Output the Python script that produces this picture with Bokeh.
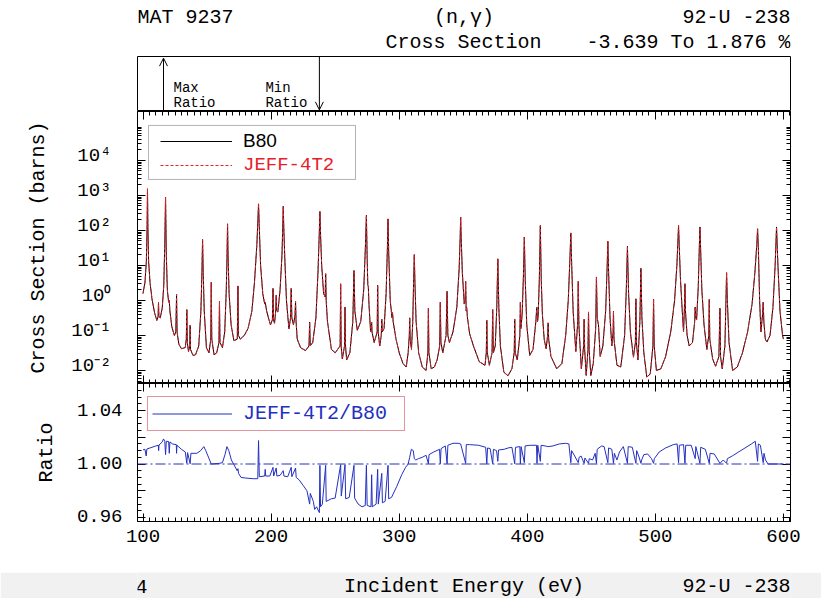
import numpy as np
from bokeh.core.properties import value
from bokeh.embed import file_html
from bokeh.layouts import column
from bokeh.models import (Arrow, BoxAnnotation, ColumnDataSource, FixedTicker, Label,
                          Legend, LegendItem, LinearAxis, LogAxis, OpenHead, Range1d,
                          SingleIntervalTicker, Span)
from bokeh.plotting import figure
from bokeh.resources import INLINE

MONO = "Liberation Mono"
SANS = "Liberation Sans"

# ---------------------------------------------------------------------------
# U-238 (n,gamma) cross section, 100-600 eV (barns), B80 evaluation.
# Each row follows one resonance group: skirt, peak, skirt, valley.
# ---------------------------------------------------------------------------
energy_ev = [
    100.0, 101.5, 102.6, 103.2, 103.5, 103.8, 104.4, 105.5, 107.0, 109.0, 110.8,
    111.8, 112.1, 112.4, 113.5, 115.0, 116.2, 117.0, 117.6, 118.2, 119.0, 120.0, 120.5, 121.0,
    122.5, 124.5, 125.6, 126.2, 126.6, 128.0, 130.0, 133.0, 133.8, 134.2, 134.6, 135.5, 136.5, 136.8, 137.1, 139.0, 141.0, 143.5,
    145.2, 146.0, 146.5, 147.0, 147.8, 149.5, 151.5, 152.9, 153.3, 153.7, 155.5, 157.5, 159.3, 159.7, 160.1, 162.0,
    163.8, 165.0, 165.6, 166.0, 166.4, 167.2, 168.8, 171.0, 173.6, 174.1, 174.5, 176.0, 179.0, 182.0, 185.0, 187.0, 188.9, 189.7, 190.2, 190.7, 191.8, 193.5, 195.0, 195.4, 196.5, 199.5,
    201.0, 201.5, 201.9, 202.7, 203.6, 204.0, 204.4, 205.3, 207.0, 208.5, 209.1, 209.5, 209.9, 210.7, 212.0, 213.9,
    215.2, 215.7, 216.2, 217.5, 218.7, 219.1, 219.5, 220.4, 223.0, 226.9, 229.6, 230.1, 230.6, 232.5,
    235.0, 236.6, 237.6, 238.1, 238.6, 239.5, 241.0, 242.2, 242.6, 243.0, 244.0, 247.1, 250.0,
    253.9, 254.3, 254.7, 255.6, 257.3, 257.7, 258.1, 259.0, 261.5, 263.8, 264.7, 265.4, 267.3, 270.0,
    272.3, 273.6, 274.4, 275.0, 275.5, 275.9, 276.4, 277.7, 278.2, 278.5, 278.8, 280.5, 282.8, 283.2, 283.6, 284.8, 286.0, 286.4, 286.8, 288.2,
    289.8, 290.8, 291.3, 291.8, 293.0, 294.4, 294.8, 295.3, 297.5, 300.0, 303.0, 305.5,
    307.0, 307.9, 308.2, 308.6, 309.6, 310.6, 311.3, 311.8, 312.3, 313.2, 315.2, 318.0, 321.0,
    322.4, 322.8, 323.2, 325.0, 327.5, 329.6, 331.6, 332.1, 332.6, 334.0, 336.6, 337.4, 338.0, 339.2,
    342.0, 345.0, 346.8, 347.6, 348.0, 348.4, 349.3, 350.8, 351.5, 351.9, 352.3, 352.7, 353.3, 355.0, 358.0, 362.5, 367.0,
    368.0, 368.4, 368.8, 370.4, 372.5, 373.0, 373.5, 375.0, 376.2, 377.0, 377.8, 379.0, 381.7, 385.0, 388.0,
    389.8, 390.2, 390.6, 392.2, 394.2, 394.6, 395.0, 396.0, 397.0, 397.7, 398.4, 399.6, 401.9,
    404.5, 406.7, 407.4, 408.0, 408.5, 409.4, 410.2, 410.9, 411.8, 413.2, 414.7, 415.9, 416.3, 416.7, 418.5, 423.0, 427.0,
    430.0, 432.0, 433.3, 434.0, 434.7, 435.8, 437.9, 439.4, 439.8, 440.3, 442.2, 444.0, 444.4, 444.8, 446.0, 447.4, 447.8, 448.3, 449.6, 451.5,
    453.4, 454.0, 454.6, 455.6, 456.9, 459.0, 461.2, 462.3, 462.9, 463.5, 464.6, 466.0, 467.0, 467.3, 467.7, 470.0, 473.0,
    476.0, 477.3, 478.2, 479.1, 480.5, 482.9, 484.4, 484.8, 485.2, 486.4, 487.9, 488.7, 489.5, 491.0, 493.3, 496.0,
    498.1, 498.6, 499.1, 500.8, 504.3, 508.0, 512.0, 515.0, 516.8, 517.6, 518.1, 518.6, 519.6, 521.0, 522.0,
    522.7, 523.1, 523.5, 524.8, 526.4, 529.0, 530.7, 531.1, 531.6, 532.2, 533.5, 534.3, 534.8, 535.3, 536.3, 538.0, 540.2,
    541.7, 542.1, 542.5, 544.7, 547.0, 549.6, 550.4, 550.9, 552.2, 554.3, 555.1, 555.6, 556.2, 557.5, 560.3, 564.0, 568.0, 572.0, 575.5,
    577.7, 579.2, 579.8, 580.4, 581.4, 582.4, 583.7, 584.2, 584.7, 585.8, 587.1, 589.5, 591.8, 593.5, 594.6, 595.7, 597.3, 599.3, 600.0,
]

b80_xs = [
    1.58, 3.2, 12.6, 126, 1550, 126, 12.6, 3.2, 1.12, 0.45, 0.27,
    0.35, 0.89, 0.35, 0.32, 0.60, 2.6, 40, 890, 20, 2.0, 0.89, 1.0, 0.50,
    0.178, 0.10, 0.126, 1.48, 0.126, 0.056, 0.042, 0.045, 0.079, 0.55, 0.063, 0.035, 0.050, 0.195, 0.040, 0.027, 0.028, 0.050,
    0.50, 6.3, 55, 6.3, 0.50, 0.045, 0.032, 0.079, 3.3, 0.079, 0.028, 0.032, 0.063, 0.93, 0.063, 0.045,
    0.126, 2.0, 20, 155, 20, 1.58, 0.20, 0.071, 0.079, 2.6, 0.10, 0.079, 0.10, 0.158, 0.50, 3.2, 40, 200, 575, 158, 10, 1.58, 0.79, 0.89, 0.50, 0.20,
    0.28, 2.2, 0.28, 0.224, 0.50, 1.41, 0.50, 0.47, 2.0, 20, 126, 490, 126, 15.8, 1.0, 0.155,
    0.32, 2.2, 0.32, 0.20, 0.40, 0.93, 0.25, 0.079, 0.045, 0.037, 0.050, 0.24, 0.051, 0.063,
    0.32, 6.3, 79, 347, 79, 10, 1.58, 1.26, 5.8, 1.0, 0.25, 0.040, 0.032,
    0.050, 3.0, 0.050, 0.0214, 0.050, 0.65, 0.050, 0.020, 0.032, 0.25, 7.2, 0.50, 0.141, 0.25,
    2.0, 32, 270, 15.8, 2.8, 2.5, 0.79, 0.126, 0.178, 0.24, 0.126, 0.063, 0.126, 2.7, 0.126, 0.050, 0.10, 0.29, 0.126, 0.158,
    1.58, 32, 214, 25, 1.0, 0.32, 0.45, 0.25, 0.079, 0.032, 0.0158, 0.0126,
    0.032, 0.10, 0.32, 0.079, 0.040, 0.25, 4.0, 20.4, 3.2, 0.25, 0.032, 0.0126, 0.010,
    0.032, 0.60, 0.032, 0.0112, 0.0126, 0.020, 0.050, 0.89, 0.063, 0.032, 0.10, 1.82, 0.10, 0.063,
    0.126, 0.63, 7.9, 63, 240, 63, 6.3, 0.79, 1.0, 3.5, 0.50, 0.63, 0.32, 0.112, 0.050, 0.0178, 0.0141,
    0.032, 0.27, 0.032, 0.0141, 0.032, 0.55, 0.032, 0.050, 0.63, 15.5, 0.63, 0.050, 0.0089, 0.0071, 0.0112,
    0.032, 0.29, 0.032, 0.020, 0.10, 0.89, 0.158, 0.40, 5.0, 65, 4.0, 0.20, 0.027,
    0.040, 0.25, 0.65, 0.25, 0.35, 4.0, 138, 4.0, 0.40, 0.079, 0.042, 0.10, 0.229, 0.079, 0.025, 0.0112, 0.0158,
    0.10, 1.0, 15.8, 85, 10, 0.50, 0.035, 0.25, 3.5, 0.20, 0.0112, 0.050, 0.29, 0.040, 0.0072, 0.040, 0.47, 0.040, 0.0072, 0.0158,
    0.158, 4.7, 0.32, 0.20, 0.025, 0.050, 0.50, 7.9, 49, 6.3, 0.32, 0.050, 0.126, 0.49, 0.079, 0.0141, 0.0126,
    0.10, 2.0, 35, 1.58, 0.126, 0.024, 0.063, 1.12, 0.063, 0.020, 0.25, 8.3, 0.32, 0.032, 0.0065, 0.0079,
    0.050, 1.07, 0.050, 0.010, 0.0112, 0.025, 0.126, 1.0, 10, 50, 138, 40, 4.0, 0.50, 0.126,
    0.63, 3.0, 0.50, 0.10, 0.050, 0.063, 0.25, 0.65, 0.32, 0.28, 2.5, 32, 126, 32, 2.0, 0.20, 0.040,
    0.10, 1.07, 0.079, 0.0214, 0.0132, 0.025, 0.60, 0.025, 0.0112, 0.050, 1.0, 6.2, 1.0, 0.063, 0.010, 0.0126, 0.032, 0.126, 0.79,
    6.3, 40, 112, 32, 1.0, 0.126, 0.40, 0.89, 0.25, 0.079, 0.065, 0.10, 0.63, 10, 126, 10, 0.50, 0.10, 0.079,
]

# JEFF-4T2 differs from B80 by less than 4 %, which is not visible on a
# seven-decade log axis, so the same tabulation is used for its curve.
jeff_xs = list(b80_xs)

# ---------------------------------------------------------------------------
# Ratio JEFF-4T2 / B80
# ---------------------------------------------------------------------------
ratio_energy_ev = [
    100.0, 101.5, 102.5, 103.0, 107.0, 110.0, 112.0, 112.2, 112.5, 115.0, 116.0, 117.0, 117.6, 118.2, 120.0, 120.5, 121.0, 123.0,
    126.0, 126.2, 126.5, 130.0, 133.0, 134.2, 134.8, 136.8, 137.4, 142.0, 145.0, 147.5, 149.0, 152.0, 153.3, 159.7, 162.0, 164.0, 165.5, 167.0, 169.0, 171.0,
    173.5, 174.1, 174.6, 176.5, 180.0, 186.0, 189.6, 190.2, 190.8, 195.0, 195.4, 195.8, 199.0, 201.5, 202.0, 204.0, 204.5, 207.0, 209.5, 210.0, 213.0, 215.7, 216.2, 219.1, 219.6,
    222.0, 225.0, 228.0, 230.1, 230.6, 233.0, 234.0, 235.5, 237.7, 238.1, 238.6, 240.0, 242.6, 243.0, 247.0, 250.0, 254.3, 254.8, 257.7, 258.2, 261.0, 264.7, 265.2, 268.0, 271.0, 273.5,
    274.4, 275.0, 278.0, 278.5, 279.0, 282.0, 283.2, 283.7, 286.4, 286.9, 289.0, 291.3, 291.8, 294.0, 298.0, 302.0, 305.0, 307.0, 308.2, 309.5, 311.0, 311.8, 313.0, 315.0, 318.0, 321.0,
    322.8, 323.3, 327.0, 331.5, 332.1, 332.7, 336.0, 337.4, 338.0, 342.0, 346.0, 348.0, 351.9, 352.4, 355.0, 362.0, 367.5, 368.4, 369.0, 371.0, 373.0, 373.6, 376.0, 377.0, 377.6, 382.0, 385.0, 388.0,
    390.2, 390.8, 394.2, 394.6, 395.2, 397.7, 398.3, 402.0, 407.2, 407.6, 408.2, 410.2, 410.8, 414.0, 416.3, 420.0, 425.0, 430.0, 432.5, 434.0, 434.6, 437.0, 439.8, 440.5, 442.0, 444.4, 445.0, 447.8, 448.4, 451.0, 453.0,
    454.0, 454.6, 458.0, 460.0, 462.9, 463.5, 466.0, 467.3, 468.0, 470.0, 472.0, 475.0, 478.2, 478.8, 482.0, 484.8, 485.4, 487.0, 488.7, 489.3, 491.0, 494.0, 497.0, 498.6, 499.2,
    503.0, 508.0, 514.0, 517.0, 518.1, 518.7, 522.0, 523.1, 523.7, 528.0, 531.1, 531.6, 534.8, 535.4, 539.0, 542.1, 542.7, 546.0, 550.4, 553.0, 555.6, 556.2, 560.0, 565.0, 570.0, 575.0, 578.0,
    579.8, 580.4, 582.0, 584.2, 584.8, 586.0, 588.0, 600.0,
]

ratio_jeff_b80 = [
    1.0106, 1.0110, 1.0060, 1.0112, 1.0125, 1.0135, 1.0140, 1.0100, 1.0142, 1.0165, 1.01876, 1.0170, 1.0070, 1.0170, 1.0168, 1.0080, 1.0165, 1.0150,
    1.0145, 1.0080, 1.0140, 1.0110, 1.0090, 1.0005, 1.0085, 1.0002, 1.0080, 1.0080, 1.0100, 1.0130, 1.0100, 1.0030, 1.0000, 1.0005, 1.0010, 1.0070, 1.0130, 1.0100, 1.0030, 0.9995,
    0.9950, 0.9965, 0.9930, 0.9900, 0.9895, 0.9890, 0.9890, 1.0175, 0.9905, 0.9910, 0.9960, 0.9910, 0.9910, 0.9975, 0.9910, 0.9970, 0.9910, 0.9915, 0.9950, 0.9910, 0.9905, 0.9975, 0.9905, 0.9970, 0.9900,
    0.9880, 0.9840, 0.9800, 0.9700, 0.9780, 0.9720, 0.9660, 0.9680, 0.96361, 0.9990, 0.9680, 0.9700, 0.9990, 0.9720, 0.9740, 0.9745, 0.9995, 0.9760, 0.9995, 0.9740, 0.9750, 0.9990, 0.9745, 0.9700, 0.9680, 0.9690,
    0.9990, 0.9690, 0.9680, 0.9920, 0.9680, 0.9700, 0.9960, 0.9700, 0.9930, 0.9710, 0.9720, 0.9990, 0.9740, 0.9750, 0.9830, 0.9920, 0.9975, 1.0000, 1.0050, 1.0110, 1.0100, 1.0040, 1.0030, 1.0040, 1.0050, 1.0065,
    1.0002, 1.0070, 1.0090, 1.0110, 1.0002, 1.0115, 1.0135, 1.0002, 1.0140, 1.0155, 1.0155, 1.0150, 1.0005, 1.0145, 1.0145, 1.0140, 1.0125, 1.0002, 1.0120, 1.0115, 1.0002, 1.0110, 1.0100, 1.0020, 1.0105, 1.0110, 1.0120, 1.0125,
    1.0002, 1.0125, 1.0130, 1.0002, 1.0130, 1.0010, 1.0135, 1.0140, 1.0140, 1.0005, 1.0140, 1.0020, 1.0140, 1.0135, 1.0130, 1.0135, 1.0150, 1.0155, 1.0150, 1.0010, 1.0100, 1.0060, 1.0010, 1.0050, 1.0060, 1.0005, 1.0045, 1.0005, 1.0040, 1.0030, 1.0080,
    1.0005, 1.0110, 1.0135, 1.0130, 1.0010, 1.0120, 1.0110, 1.0005, 1.0080, 1.0030, 1.0090, 1.0130, 1.0005, 1.0130, 1.0125, 1.0005, 1.0100, 1.0060, 1.0005, 1.0030, 1.0070, 1.0075, 1.0040, 1.0005, 1.0040,
    1.0090, 1.0120, 1.0145, 1.0150, 1.0010, 1.0140, 1.0145, 1.0005, 1.0140, 1.0140, 1.0040, 1.0130, 1.0005, 1.0125, 1.0110, 1.0005, 1.0080, 1.0075, 1.0005, 1.0030, 1.0005, 1.0040, 1.0060, 1.0090, 1.0120, 1.0150, 1.0170,
    1.0020, 1.0150, 1.0140, 1.0010, 1.0080, 1.0030, 1.0000, 1.0000,
]

# Header and footer texts
mat_label = "MAT 9237"
reaction_label = "(n,\u03b3)"
quantity_label = "Cross Section"
nuclide_label = "92-U -238"
page_label = "4"
energy_axis_label = "Incident Energy (eV)"
xs_axis_label = "Cross Section (barns)"
ratio_axis_label = "Ratio"
series_names = ["B80", "JEFF-4T2"]
ratio_name = "JEFF-4T2/B80"
ratio_tick_labels = {0.96: "0.96", 0.98: " ", 1.0: "1.00", 1.02: " ", 1.04: "1.04"}
xs_decade_exponents = [-2, -1, 0, 1, 2, 3, 4]

# Extreme ratios, reported in the header and marked with arrows
r = np.array(ratio_jeff_b80)
e = np.array(ratio_energy_ev)
i_max, i_min = int(np.argmax(r)), int(np.argmin(r))
e_max, e_min = float(e[i_max]), float(e[i_min])
range_label = f"{(r[i_min] - 1) * 100:.3f} To {(r[i_max] - 1) * 100:.3f} %"

# ---------------------------------------------------------------------------
# Styling helpers
# ---------------------------------------------------------------------------
W = 821
LEFT, RIGHT = 137, 31
FRAME_L, FRAME_R = LEFT, W - RIGHT
x_range = Range1d(95.7, 605.5)
BLUE = "#2430c0"
RED = "#e8202a"
BAND = "#f1f1f1"
SUP = str.maketrans("-0123456789", "\u207b\u2070\u00b9\u00b2\u00b3\u2074\u2075\u2076\u2077\u2078\u2079")


def panel(height, y_range, y_type=None, bottom=0):
    p = figure(width=W, height=height, x_range=x_range, y_range=y_range,
               x_axis_type=None, y_axis_type=y_type,
               output_backend="svg", toolbar_location=None,
               min_border_left=LEFT, min_border_right=RIGHT,
               min_border_top=0, min_border_bottom=bottom)
    p.outline_line_color = "black"
    p.outline_line_width = 1
    p.background_fill_color = "white"
    p.border_fill_color = "white"
    for g in p.grid:
        g.visible = False
    return p


def style_ticks(ax, major=8, minor=4):
    ax.major_tick_in = major
    ax.major_tick_out = 0
    ax.minor_tick_in = minor
    ax.minor_tick_out = 0
    ax.axis_line_color = "black"
    ax.major_tick_line_color = "black"
    ax.minor_tick_line_color = "black"


def ticks_only(ax, major=8, minor=4):
    style_ticks(ax, major, minor)
    ax.major_label_text_font_size = "1px"
    ax.major_label_text_color = None
    ax.major_label_standoff = 0
    ax.axis_label = None


def energy_ticker():
    return SingleIntervalTicker(interval=100, num_minor_ticks=20)


def text_panel(height, fill="white"):
    # frame spans the same columns as the data panels; x is in page pixels
    p = figure(width=W, height=height, x_range=Range1d(FRAME_L, FRAME_R),
               y_range=Range1d(0, height), x_axis_type=None, y_axis_type=None,
               output_backend="svg", toolbar_location=None,
               min_border_left=LEFT, min_border_right=RIGHT,
               min_border_top=0, min_border_bottom=0)
    p.outline_line_color = None
    p.background_fill_color = fill
    p.border_fill_color = fill
    for g in p.grid:
        g.visible = False
    return p


def put_label(p, x, y, txt, align="left", size="20px", color="black", font=MONO, x_offset=0):
    p.add_layout(Label(x=x, y=y, x_offset=x_offset, text=txt, text_align=align,
                       text_baseline="middle", text_font=font, text_font_size=size,
                       text_color=color))


# ---------------------------------------------------------------------------
# Header
# ---------------------------------------------------------------------------
head = text_panel(56)
put_label(head, 137, 39, mat_label)
put_label(head, 463.5, 39, reaction_label, align="center")
put_label(head, 790, 39, nuclide_label, align="right")
put_label(head, 385, 14, quantity_label)
put_label(head, 790, 14, range_label, align="right")

# ---------------------------------------------------------------------------
# Max / min ratio markers
# ---------------------------------------------------------------------------
box = panel(55, Range1d(0, 1))
box.add_layout(Arrow(end=OpenHead(size=8, line_width=1), line_width=1,
                     x_start=e_max, y_start=0.0, x_end=e_max, y_end=0.97))
box.add_layout(Arrow(end=OpenHead(size=8, line_width=1), line_width=1,
                     x_start=e_min, y_start=1.0, x_end=e_min, y_end=0.03))
put_label(box, e_max, 0.42, "Max", size="14px", x_offset=10)
put_label(box, e_max, 0.15, "Ratio", size="14px", x_offset=10)
put_label(box, e_min, 0.42, "Min", size="14px", x_offset=-54)
put_label(box, e_min, 0.15, "Ratio", size="14px", x_offset=-54)

# ---------------------------------------------------------------------------
# Cross section panel
# ---------------------------------------------------------------------------
xs = panel(272, Range1d(4.25e-3, 2.5e5), y_type="log")
src = ColumnDataSource(dict(energy=energy_ev, b80=b80_xs, jeff=jeff_xs))
r_b80 = xs.line("energy", "b80", source=src, line_color="black", line_width=1)
r_jeff = xs.line("energy", "jeff", source=src, line_color=RED, line_width=1, line_dash="3 2")

decades = [10.0 ** k for k in xs_decade_exponents]
minors = [m * 10.0 ** k for k in range(-3, 5) for m in range(2, 10)]

# tick marks sit on the decades; the decade labels are set a little above
# them, with the base line of "10" near the tick
yl = xs.yaxis[0]
yl.ticker = FixedTicker(ticks=decades, minor_ticks=minors)
ticks_only(yl)

label_pos = [10.0 ** (k + 0.13) for k in xs_decade_exponents]
yl2 = LogAxis(ticker=FixedTicker(ticks=label_pos, minor_ticks=[]),
              major_label_overrides={p: "10" + str(k).translate(SUP)
                                     for p, k in zip(label_pos, xs_decade_exponents)})
yl2.major_tick_line_color = None
yl2.minor_tick_line_color = None
yl2.axis_line_color = None
yl2.major_tick_in = 0
yl2.major_tick_out = 0
yl2.major_label_text_font = MONO
yl2.major_label_text_font_size = "19px"
yl2.major_label_text_color = "black"
yl2.major_label_standoff = 26
yl2.axis_label = xs_axis_label
yl2.axis_label_text_font = MONO
yl2.axis_label_text_font_size = "20px"
yl2.axis_label_text_font_style = "normal"
yl2.axis_label_text_color = "black"
yl2.axis_label_standoff = 18
xs.add_layout(yl2, "left")

yr = LogAxis(ticker=FixedTicker(ticks=decades, minor_ticks=minors))
ticks_only(yr)
xs.add_layout(yr, "right")
for side in ("above", "below"):
    ax = LinearAxis(ticker=energy_ticker())
    ticks_only(ax)
    xs.add_layout(ax, side)

# Legend frame (in axis units: 148-355 px wide, 125-179 px high on the page)
xs.add_layout(BoxAnnotation(left=104.3, right=265.9, bottom=2.87e3, top=1.0e5,
                            fill_color="white", fill_alpha=1.0,
                            line_color="black", line_width=1))
row = dict(padding=0, spacing=0, margin=0, glyph_width=72, glyph_height=24,
           label_height=24, label_standoff=11, label_text_font_size="19px",
           border_line_alpha=0, background_fill_alpha=0)
xs.add_layout(Legend(items=[LegendItem(label=series_names[0], renderers=[r_b80])],
                     location=(23, 230), label_text_font=SANS,
                     label_text_color="black", **row))
xs.add_layout(Legend(items=[LegendItem(label=series_names[1], renderers=[r_jeff])],
                     location=(23, 206), label_text_font=MONO,
                     label_text_color=RED, **row))

# ---------------------------------------------------------------------------
# Ratio panel (its lower border leaves room for the energy tick labels)
# ---------------------------------------------------------------------------
rp = panel(189, Range1d(0.957, 1.0602), bottom=51)
rsrc = ColumnDataSource(dict(energy=ratio_energy_ev, ratio=ratio_jeff_b80))
r_ratio = rp.line("energy", "ratio", source=rsrc, line_color=BLUE, line_width=1)
rp.add_layout(Span(location=1.0, dimension="width", line_color=BLUE,
                   line_width=1, line_dash="10 3 2 3"))

ratio_major = sorted(ratio_tick_labels)
ratio_minor = [round(0.955 + 0.005 * k, 3) for k in range(22)]
rl = LinearAxis(ticker=FixedTicker(ticks=ratio_major, minor_ticks=ratio_minor),
                major_label_overrides=ratio_tick_labels)
style_ticks(rl)
rl.major_label_text_font = MONO
rl.major_label_text_font_size = "19px"
rl.major_label_text_color = "black"
rl.major_label_standoff = 15
rl.axis_label = ratio_axis_label
rl.axis_label_text_font = MONO
rl.axis_label_text_font_size = "20px"
rl.axis_label_text_font_style = "normal"
rl.axis_label_text_color = "black"
rl.axis_label_standoff = 16
rp.add_layout(rl, "left")

rr = LinearAxis(ticker=FixedTicker(ticks=ratio_major, minor_ticks=ratio_minor))
ticks_only(rr)
rp.add_layout(rr, "right")

rt = LinearAxis(ticker=energy_ticker())
ticks_only(rt)
rp.add_layout(rt, "above")

rb = LinearAxis(ticker=energy_ticker())
style_ticks(rb)
rb.major_label_text_font = MONO
rb.major_label_text_font_size = "19px"
rb.major_label_text_color = "black"
rb.major_label_standoff = 8
rp.add_layout(rb, "below")

rp.add_layout(Legend(items=[LegendItem(label=ratio_name, renderers=[r_ratio])],
                     location=(10, 90), padding=4, spacing=0, margin=0,
                     glyph_width=80, glyph_height=25, label_height=25, label_width=157,
                     label_standoff=11, label_text_font=MONO, label_text_font_size="20px",
                     label_text_color=BLUE, border_line_color="#c8283c", border_line_width=1,
                     background_fill_color="white", background_fill_alpha=1.0))

# ---------------------------------------------------------------------------
# Footer strip
# ---------------------------------------------------------------------------
foot = text_panel(26, fill=BAND)
put_label(foot, 141, 12, page_label, align="center")
put_label(foot, 463.5, 12, energy_axis_label, align="center")
put_label(foot, 790, 12, nuclide_label, align="right")

layout = column(head, box, xs, rp, foot, spacing=0)
open("out.html", "w").write(file_html(layout, INLINE))
